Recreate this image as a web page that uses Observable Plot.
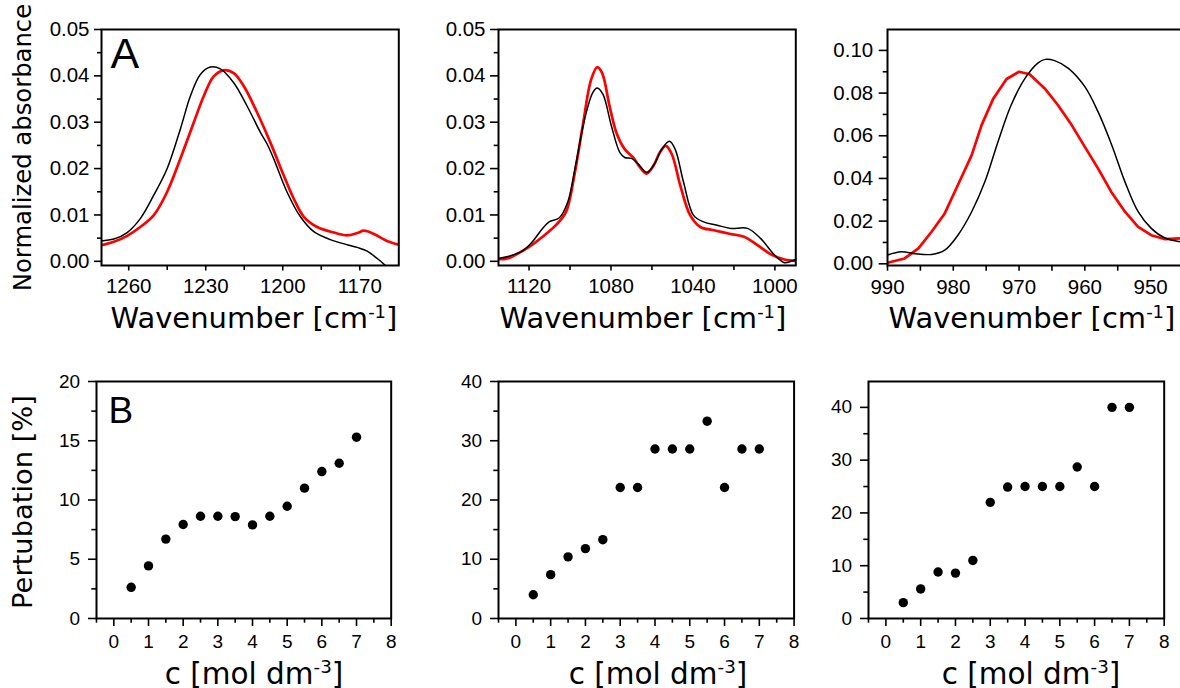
<!DOCTYPE html>
<html><head><meta charset="utf-8">
<script src="https://cdn.jsdelivr.net/npm/d3@7"></script>
<script src="https://cdn.jsdelivr.net/npm/@observablehq/plot@0.6"></script>
<style>
html,body{margin:0;padding:0;background:#fff;overflow:hidden;}
#root{position:relative;width:1180px;height:688px;overflow:hidden;background:#fff;}
#root svg{position:absolute;}
#root svg.toprow g[aria-label$="tick label"] text{font-size:20.5px !important;font-family:'Liberation Sans',Arial,sans-serif !important;}
#root svg.botrow g[aria-label$="tick label"] text{font-size:19px !important;font-family:'Liberation Sans',Arial,sans-serif !important;}
</style></head><body><div id="root"></div>
<script>
// ---------- Panel A1 (1270–1155 cm-1) ----------
const a1BlackWn  = [1271,1265.8,1260.6,1255.5,1250.3,1245.1,1239.9,1236,1232.1,1228.2,1224.3,1219.1,1213.9,1208.7,1206.1,1203.5,1198.3,1193.1,1187.9,1180.1,1171,1167.1,1163.2,1160,1158];
const a1BlackAbs = [0.0044,0.0048,0.0062,0.0092,0.0142,0.0199,0.0285,0.0356,0.0403,0.0419,0.0415,0.0385,0.0335,0.0278,0.0253,0.0221,0.0149,0.0096,0.0064,0.0044,0.0030,0.0022,0.0006,-0.0009,-0.002];
const a1RedWn    = [1271,1265.8,1260.6,1255.5,1250.3,1245.1,1239.9,1234.7,1230.8,1226.9,1223,1219.1,1215.2,1210,1204.8,1199.6,1195.7,1191.8,1186.6,1180.1,1174.9,1171,1168.4,1164.5,1159.4,1154.8];
const a1RedAbs   = [0.0034,0.0042,0.0055,0.0074,0.0099,0.0149,0.0221,0.0299,0.0356,0.0399,0.0412,0.0406,0.0378,0.0321,0.0256,0.0185,0.0135,0.0096,0.0074,0.0062,0.0056,0.0061,0.0066,0.0059,0.0044,0.0036];

// ---------- Panel A2 (1135–990 cm-1) ----------
const a2BlackWn  = [1136.4,1129.8,1123.3,1118.4,1113.4,1110.2,1105.2,1101.1,1097,1092.9,1088.9,1086.7,1083.9,1079.8,1075.7,1073.3,1070,1066.7,1062.6,1059.3,1055.2,1051.5,1048.7,1044.6,1039.7,1034.8,1028.2,1021.6,1013.4,1006.9,1000.3,995.4,992.1,989.2];
const a2BlackAbs = [0.0005,0.0011,0.0022,0.0042,0.0071,0.0085,0.0094,0.0128,0.0214,0.0306,0.0364,0.0374,0.0360,0.0292,0.0235,0.0224,0.0222,0.0210,0.0192,0.0206,0.0242,0.0259,0.0242,0.0171,0.0099,0.0085,0.0078,0.0071,0.0071,0.0049,0.0014,-0.0003,0.0000,0.0006];
const a2RedWn    = [1136.4,1131.5,1126.6,1120,1113.4,1106.9,1102,1097.9,1093.8,1089.7,1086.7,1084.3,1080.7,1077.4,1073.3,1069.2,1065.9,1062.6,1059.3,1056.1,1053.3,1050.3,1046.2,1041.3,1036.4,1029.8,1021.6,1015.1,1008.5,1002,995.4,989.2];
const a2RedAbs   = [0.0006,0.0005,0.0014,0.0031,0.0053,0.0078,0.0106,0.0185,0.0292,0.0392,0.0419,0.0406,0.0335,0.0278,0.0242,0.0224,0.0203,0.0189,0.0206,0.0235,0.0249,0.0231,0.0164,0.0099,0.0074,0.0067,0.0059,0.0053,0.0035,0.0015,0.0004,0.0001];

// ---------- Panel A3 (990–945 cm-1) ----------
const a3BlackWn  = [990,987.9,985.8,983.3,981.3,979.3,977.2,975.2,973.2,971.2,969.1,967.1,966,964.6,962.5,960,958,955.9,953.9,951.9,949.9,947.9,945.4];
const a3BlackAbs = [0.0041,0.0056,0.0047,0.0044,0.0064,0.0134,0.0244,0.0384,0.0572,0.0744,0.0869,0.0942,0.0958,0.0952,0.0916,0.0830,0.0713,0.0556,0.0384,0.0244,0.0166,0.0122,0.0103];
const a3RedWn    = [990.4,987.4,985.3,983.3,981.3,979.3,977.2,975.7,973.9,971.9,970,968.4,966.1,964.1,962,960,958,956,953.9,951.9,949.9,947.9,945.4];
const a3RedAbs   = [0.0002,0.0025,0.0072,0.0150,0.0236,0.0369,0.0509,0.0650,0.0775,0.0866,0.0900,0.0888,0.0822,0.0744,0.0650,0.0548,0.0447,0.0338,0.0244,0.0173,0.0134,0.0116,0.0119];

// ---------- Panel B (perturbation vs concentration) ----------
const conc   = [0.5,1,1.5,2,2.5,3,3.5,4,4.5,5,5.5,6,6.5,7];
const pertB1 = [2.63,4.44,6.7,7.93,8.63,8.63,8.6,7.9,8.63,9.47,11.0,12.4,13.1,15.3];
const pertB2 = [4.0,7.4,10.4,11.8,13.3,22.1,22.1,28.6,28.6,28.6,33.3,22.1,28.6,28.6];
const pertB3 = [3.0,5.6,8.8,8.6,11.0,22.0,24.9,25.0,25.0,25.0,28.7,25.0,40.0,40.0];

// ---------- tick values ----------
const a1XMajor = [1260,1230,1200,1170], a1XMinor = [1245,1215,1185];
const a2XMajor = [1120,1080,1040,1000], a2XMinor = [1100,1060,1020];
const a3XMajor = [990,980,970,960,950], a3XMinor = [985,975,965,955];
const aYMajor = [0,0.01,0.02,0.03,0.04,0.05], aYMinor = [0.005,0.015,0.025,0.035,0.045];
const a3YMajor = [0,0.02,0.04,0.06,0.08,0.10], a3YMinor = [0.01,0.03,0.05,0.07,0.09];
const bXMajor = [0,1,2,3,4,5,6,7,8], bXMinor = [-0.5,0.5,1.5,2.5,3.5,4.5,5.5,6.5,7.5];
const b1YMajor = [0,5,10,15,20], b1YMinor = [2.5,7.5,12.5,17.5];
const b2YMajor = [0,10,20,30,40], b2YMinor = [5,15,25,35];
const b3YMajor = [0,10,20,30,40], b3YMinor = [5,15,25,35];

const root = document.getElementById("root");
const rows = (xs, ys) => xs.map((x, i) => ({x, y: ys[i]}));

function panel(c) {
  const mL = 70, mR = 20, mT = 12, mB = 44;
  const axisCommon = {label: null, stroke: "#000", strokeWidth: 1.6};
  const p = Plot.plot({
    width: c.fw + mL + mR, height: c.fh + mT + mB,
    marginLeft: mL, marginRight: mR, marginTop: mT, marginBottom: mB,
    x: {domain: c.xDomain}, y: {domain: c.yDomain},
    style: {fontFamily: "'Liberation Sans', Arial, sans-serif", fontSize: c.fs + "px", background: "transparent", color: "#000", overflow: "visible"},
    marks: [
      ...c.marks,
      Plot.frame({stroke: "#000", strokeWidth: 2}),
      Plot.axisX({...axisCommon, ticks: c.xMajor, tickSize: c.xts, tickPadding: c.xtp, tickFormat: c.xfmt, fontSize: c.fs, fill: "#000"}),
      Plot.axisX({...axisCommon, ticks: c.xMinor, tickSize: c.xms, tickFormat: () => ""}),
      Plot.axisY({...axisCommon, ticks: c.yMajor, tickSize: c.yts, tickPadding: c.ytp, tickFormat: c.yfmt, fontSize: c.fs, fill: "#000"}),
      Plot.axisY({...axisCommon, ticks: c.yMinor, tickSize: c.yms, tickFormat: () => ""})
    ]
  });
  p.classList.add(c.row);
  p.style.left = (c.fx - mL) + "px";
  p.style.top = (c.fy - mT) + "px";
  root.appendChild(p);
}

const f2 = d3.format(".2f"), fd = d3.format("d");
const blackLine = (xs, ys, curve = "catmull-rom") => Plot.line(rows(xs, ys), {x: "x", y: "y", stroke: "#000", strokeWidth: 1.5, curve, clip: true});
const redLine = (xs, ys, curve = "catmull-rom") => Plot.line(rows(xs, ys), {x: "x", y: "y", stroke: "#ff0000", strokeWidth: 2.7, curve, clip: true});
const dots = (ys) => Plot.dot(rows(conc, ys), {x: "x", y: "y", r: 4.7, fill: "#000", stroke: null});
const letter = (t, fs, dx, dy) => Plot.text([t], {frameAnchor: "top-left", text: d => d, fontSize: fs, dx, dy, fill: "#000", lineAnchor: "top", textAnchor: "start"});

// Top row
panel({row: "toprow", fx: 101, fy: 29, fw: 297.3, fh: 236, xDomain: [1270.6, 1154.8], yDomain: [-0.0009, 0.05],
  xMajor: a1XMajor, xMinor: a1XMinor, yMajor: aYMajor, yMinor: aYMinor,
  xts: 5.5, xms: 5, xtp: 7.5, yts: 7, yms: 4, ytp: 5, fs: 20.5, xfmt: fd, yfmt: f2,
  marks: [redLine(a1RedWn, a1RedAbs), blackLine(a1BlackWn, a1BlackAbs), letter("A", 43, 9, 8)]});
panel({row: "toprow", fx: 497.7, fy: 29, fw: 297.3, fh: 236, xDomain: [1134.9, 989.8], yDomain: [-0.0009, 0.05],
  xMajor: a2XMajor, xMinor: a2XMinor, yMajor: aYMajor, yMinor: aYMinor,
  xts: 5.5, xms: 5, xtp: 7.5, yts: 8, yms: 4.3, ytp: 5, fs: 20.5, xfmt: fd, yfmt: f2,
  marks: [redLine(a2RedWn, a2RedAbs), blackLine(a2BlackWn, a2BlackAbs)]});
panel({row: "toprow", fx: 886.7, fy: 29, fw: 296, fh: 236, xDomain: [990, 945], yDomain: [-0.0008, 0.1098],
  xMajor: a3XMajor, xMinor: a3XMinor, yMajor: a3YMajor, yMinor: a3YMinor,
  xts: 5.7, xms: 5.7, xtp: 8, yts: 8.3, yms: 4.3, ytp: 6, fs: 20.5, xfmt: fd, yfmt: f2,
  marks: [redLine(a3RedWn, a3RedAbs, "linear"), blackLine(a3BlackWn, a3BlackAbs)]});

// Bottom row
panel({row: "botrow", fx: 96.3, fy: 381, fw: 294.7, fh: 237, xDomain: [-0.5, 8], yDomain: [0, 20],
  xMajor: bXMajor, xMinor: bXMinor, yMajor: b1YMajor, yMinor: b1YMinor,
  xts: 8, xms: 4.7, xtp: 8, yts: 8, yms: 4.7, ytp: 8.5, fs: 19, xfmt: fd, yfmt: fd,
  marks: [dots(pertB1), letter("B", 37, 12, 15)]});
panel({row: "botrow", fx: 497.7, fy: 381, fw: 295.6, fh: 237, xDomain: [-0.5, 8], yDomain: [0, 40],
  xMajor: bXMajor, xMinor: bXMinor, yMajor: b2YMajor, yMinor: b2YMinor,
  xts: 8, xms: 4.7, xtp: 8, yts: 8, yms: 4.7, ytp: 8.5, fs: 19, xfmt: fd, yfmt: fd,
  marks: [dots(pertB2)]});
panel({row: "botrow", fx: 868.3, fy: 381, fw: 295.7, fh: 237, xDomain: [-0.5, 8], yDomain: [0, 44.9],
  xMajor: bXMajor, xMinor: bXMinor, yMajor: b3YMajor, yMinor: b3YMinor,
  xts: 8, xms: 4.7, xtp: 8, yts: 8, yms: 4.7, ytp: 8.5, fs: 19, xfmt: fd, yfmt: fd,
  marks: [dots(pertB3)]});

// Axis titles overlay
const ov = d3.select(root).append("svg").attr("width", 1180).attr("height", 688)
  .style("left", "0px").style("top", "0px").style("pointer-events", "none")
  .attr("font-family", "'DejaVu Sans', sans-serif").attr("fill", "#000");

function supTitle(cx, y, main, sup, fs) {
  const t = ov.append("text").attr("x", cx).attr("y", y).attr("text-anchor", "middle").attr("font-size", fs);
  t.append("tspan").text(main);
  t.append("tspan").attr("font-size", fs * 0.62).attr("dy", -fs * 0.36).text(sup);
  t.append("tspan").attr("dy", fs * 0.36).text("]");
}
const waveTitle = ["Wavenumber [cm", "-1"];
const concTitle = ["c [mol dm", "-3"];
[254, 643, 1032].forEach(cx => supTitle(cx, 328, waveTitle[0], waveTitle[1], 29));
[254, 658, 1031].forEach(cx => supTitle(cx, 684, concTitle[0], concTitle[1], 29.5));

ov.append("text").attr("transform", "translate(31,147.5) rotate(-90)").attr("text-anchor", "middle")
  .attr("font-size", 24.3).text("Normalized absorbance");
ov.append("text").attr("transform", "translate(32,502) rotate(-90)").attr("text-anchor", "middle")
  .attr("font-size", 27.3).text("Pertubation [%]");
</script></body></html>
